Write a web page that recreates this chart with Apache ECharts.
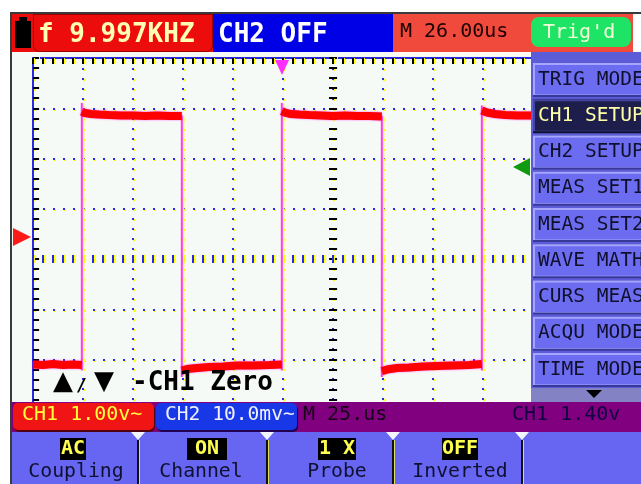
<!DOCTYPE html>
<html><head><meta charset="utf-8">
<script src="https://cdn.jsdelivr.net/npm/echarts@6/dist/echarts.min.js"></script>
<style>html,body{margin:0;padding:0;background:#fff}#c{width:641px;height:484px}</style>
</head><body><div id="c"></div><script>
// ---------------- data (read from the screen) ----------------
// time axis: 12 divisions x 25 us ; CH1 1.00 V/div, 8 divisions
const timeRangeUs = [0, 300];
const voltRange = [-4.442, 3.566];
// flat parts of the CH1 square wave (null value = gap at an edge)
const levelT = [0, 5, 10, 15, 20, 24.4, 24.4,
  24.4, 26, 29, 33, 38, 44, 50, 56, 62, 68, 74.4, 74.4,
  74.4, 77, 82, 88, 95, 102, 110, 118, 124.4, 124.4,
  124.4, 126, 129, 133, 138, 144, 150, 156, 162, 168, 174.4, 174.4,
  174.4, 177, 182, 188, 195, 202, 210, 218, 224.4, 224.4,
  224.4, 227, 231, 236, 242, 250, 260, 270, 280, 290, 300];
const levelV = [-2.54, -2.55, -2.53, -2.55, -2.54, -2.55, null,
  2.50, 2.47, 2.45, 2.44, 2.43, 2.42, 2.42, 2.41, 2.42, 2.41, 2.41, null,
  -2.66, -2.63, -2.61, -2.59, -2.58, -2.56, -2.56, -2.55, -2.54, null,
  2.51, 2.48, 2.45, 2.44, 2.43, 2.42, 2.41, 2.42, 2.41, 2.41, 2.40, null,
  -2.67, -2.64, -2.61, -2.60, -2.58, -2.57, -2.56, -2.55, -2.53, null,
  2.52, 2.48, 2.45, 2.43, 2.42, 2.42, 2.41, 2.41, 2.40, 2.40, 2.40];
// vertical edges of the wave
const edgeT = [24.4, 74.4, 124.4, 174.4, 224.4];
const edgeFromV = [-2.66, 2.42, -2.66, 2.41, -2.66];
const edgeToV = [2.67, -2.79, 2.67, -2.79, 2.62];

// texts on the instrument screen
const topTexts = ['f 9.997KHZ', 'CH2 OFF', 'M 26.00us', "Trig'd"];
const menuItems = ['TRIG MODE', 'CH1 SETUP', 'CH2 SETUP', 'MEAS SET1', 'MEAS SET2',
  'WAVE MATH', 'CURS MEAS', 'ACQU MODE', 'TIME MODE'];
const selectedMenu = 'CH1 SETUP';
const statusTexts = ['CH1 1.00v~', 'CH2 10.0mv~', 'M 25.us', 'CH1 1.40v'];
const softValues = ['AC', 'ON', '1 X', 'OFF'];
const softNames = ['Coupling', 'Channel', 'Probe', 'Inverted'];
const zeroHint = '-CH1 Zero';

// ---------------- build ----------------
const levelData = levelT.map((t, i) => [t, levelV[i] === null ? '-' : levelV[i]]);
const edgeData = [];
edgeT.forEach((t, i) => { edgeData.push([t, edgeFromV[i]], [t, edgeToV[i]], [t, '-']); });

const MONO = '"DejaVu Sans Mono", monospace';
const Z = 100;
const els = [];
function rect(x, y, w, h, fill, r, extra) {
  els.push(Object.assign({ type: 'rect', z: Z, silent: true, shape: { x, y, width: w, height: h, r: r || 0 }, style: { fill } }, extra || {}));
}
function poly(pts, fill) { els.push({ type: 'polygon', z: Z + 1, silent: true, shape: { points: pts }, style: { fill } }); }
function txt(x, y, text, size, fill, bold, align, family) {
  els.push({ type: 'text', z: Z + 2, silent: true, x, y, style: {
    text, fill, font: (bold ? 'bold ' : '') + size + 'px ' + (family || MONO),
    textAlign: align || 'left', textVerticalAlign: 'middle' } });
}

// screen background (below axes)
els.push({ type: 'rect', z: -10, silent: true, shape: { x: 12, y: 50, width: 629, height: 434 }, style: { fill: '#f6faf6' } });
// frame
rect(10, 12, 631, 2, '#3a3a3a');
rect(10, 12, 2, 472, '#3a3a3a');
// top bar
rect(12, 14, 201, 38, '#ec0c0c');
els.push({ type: 'rect', z: Z, silent: true, shape: { x: 33.5, y: 14.5, width: 179, height: 37, r: [0, 0, 6, 6] }, style: { fill: 'none', stroke: '#9a0000', lineWidth: 1 } });
rect(15, 21, 16, 27, '#000000');
rect(19, 17, 8, 5, '#000000');
txt(38, 35, topTexts[0], 26, '#ffffb4', true);
rect(213, 14, 180, 38, '#0000e6');
txt(218, 35, topTexts[1], 26, '#ffffff', true);
rect(393, 14, 240, 38, '#f04a3c');
txt(400, 32, topTexts[2], 20, '#1a0000', false);
rect(531, 17, 100, 30, '#1ee466', 8);
txt(543, 33, topTexts[3], 20, '#f4ffd8', false);
rect(393, 52, 138, 4, '#fffaf2');

// markers on the plot
poly([[275, 60], [289, 60], [282, 75]], '#ff30ff');
poly([[13, 228], [13, 246], [31, 237]], '#ff1a1a');
poly([[530, 158], [530, 176], [513, 167]], '#109a10');
txt(53, 382, '\u25B2', 26, '#000000', false, 'left', '"DejaVu Sans"');
txt(76, 386, '/', 18, '#000000', true, 'left');
txt(94, 382, '\u25BC', 26, '#000000', false, 'left', '"DejaVu Sans"');
txt(132, 383, zeroHint, 26, '#000000', true);

// right menu
rect(531, 52, 110, 350, '#5c5cd8');
menuItems.forEach((m, k) => {
  const top = 63 + 36.25 * k;
  const sel = m === selectedMenu;
  rect(533, top, 110, 34, sel ? '#101030' : '#383898');
  rect(533, top, 110, 32, sel ? '#4646a0' : '#a6a6ff');
  rect(535, top + 2, 108, 29.5, sel ? '#1e1e4c' : '#6c6cf0');
  txt(538, top + 16.5, m, 19.5, sel ? '#ffffa8' : '#10102c', false);
});
rect(531, 388, 110, 14, '#8282c4');
poly([[586, 390], [602, 390], [594, 398]], '#000000');

// status bar
rect(12, 402, 629, 30, '#800080');
rect(14, 405, 141, 27, '#500010', 5);
rect(13, 403, 141, 27, '#f01414', 5);
txt(22, 415, statusTexts[0], 20, '#ffff3c', false);
rect(157, 405, 141, 27, '#200050', 5);
rect(156, 403, 141, 27, '#1838e8', 5);
txt(165, 415, statusTexts[1], 19.6, '#f0f0ff', false);
txt(303, 415, statusTexts[2], 20, '#180018', false);
txt(512, 415, statusTexts[3], 20, '#100040', false);

// soft keys
rect(12, 432, 629, 52, '#6666f2');
[138, 267, 393, 522].forEach(x => {
  rect(x - 1, 440, 2, 44, '#101010');
  rect(x + 1, 440, 1, 44, '#e0e060');
  poly([[x - 7, 432], [x + 7, 432], [x, 440]], '#f4f4ff');
});
const valCenters = [73, 207, 337, 460], valBoxW = [26, 40, 38, 36], nameCenters = [76, 201, 337, 460];
softValues.forEach((v, i) => {
  rect(valCenters[i] - valBoxW[i] / 2, 438, valBoxW[i], 22, '#000000');
  txt(valCenters[i], 449, v, 20, '#ffff50', true, 'center');
  txt(nameCenters[i], 472, softNames[i], 19.8, '#101030', false, 'center');
});

// ---------------- axes ----------------
const BLUE = '#2a2ae0';
const noLabel = { show: false };
const dotted = { show: true, lineStyle: { color: BLUE, width: 2, type: [2, 8], shadowColor: '#ffff00', shadowOffsetX: 1, shadowOffsetY: 1 } };
const hidden = { show: false };
function tickAxis(base, inside, len, color) {
  return Object.assign({
    type: 'value', axisLabel: noLabel, splitLine: hidden,
    axisTick: { show: true, inside, length: len, lineStyle: { color, width: 2, shadowColor: '#ffff00', shadowOffsetX: 1 } },
    minorTick: { show: true, splitNumber: 5, length: len, lineStyle: { color, width: 2, shadowColor: '#ffff00', shadowOffsetX: 1 } }
  }, base);
}

const option = {
  backgroundColor: '#ffffff',
  animation: false,
  grid: { left: 33, top: 58, width: 600, height: 402, containLabel: false, outerBoundsMode: 'none' },
  xAxis: [
    tickAxis({ min: -6, max: 6, interval: 1, position: 'bottom', splitLine: dotted,
      axisLine: { show: true, onZero: true, onZeroAxisIndex: 0, lineStyle: { color: 'rgba(0,0,0,0)' } } }, true, 4, BLUE),
    tickAxis({ min: -6, max: 6, interval: 1, position: 'bottom',
      axisLine: { show: true, onZero: true, onZeroAxisIndex: 0, lineStyle: { color: 'rgba(0,0,0,0)' } } }, false, 4, BLUE),
    tickAxis({ min: -6, max: 6, interval: 1, position: 'top',
      axisLine: { show: true, onZero: false, lineStyle: { color: BLUE, width: 2 } } }, true, 6, '#000000'),
    { type: 'value', min: timeRangeUs[0], max: timeRangeUs[1], show: false, position: 'bottom', axisLine: { onZero: false } }
  ],
  yAxis: [
    tickAxis({ min: -4, max: 4, interval: 1, position: 'left', splitLine: dotted,
      axisLine: { show: true, onZero: false, lineStyle: { color: BLUE, width: 2 } } }, true, 6, '#000000'),
    tickAxis({ min: -4, max: 4, interval: 1, position: 'left',
      axisLine: { show: true, onZero: true, onZeroAxisIndex: 0, lineStyle: { color: 'rgba(0,0,0,0)' } } }, true, 4, '#000000'),
    tickAxis({ min: -4, max: 4, interval: 1, position: 'left',
      axisLine: { show: true, onZero: true, onZeroAxisIndex: 0, lineStyle: { color: 'rgba(0,0,0,0)' } } }, false, 4, '#000000'),
    { type: 'value', min: voltRange[0], max: voltRange[1], show: false, position: 'right', axisLine: { onZero: false } }
  ],
  series: [
    { name: 'CH1 edges', type: 'line', xAxisIndex: 3, yAxisIndex: 3, data: edgeData, symbol: 'none',
      connectNulls: false, silent: true, z: 3,
      lineStyle: { color: '#ff38ff', width: 2, shadowColor: '#ffff30', shadowOffsetX: 1.5 } },
    { name: 'CH1', type: 'line', xAxisIndex: 3, yAxisIndex: 3, data: levelData, symbol: 'none',
      connectNulls: false, silent: true, z: 4,
      lineStyle: { color: '#ff0000', width: 8, shadowColor: 'rgba(255,0,255,0.7)', shadowBlur: 2 } }
  ],
  graphic: { elements: els }
};
const chart = echarts.init(document.getElementById('c'), null, { renderer: 'canvas' });
chart.setOption(option);
</script></body></html>
